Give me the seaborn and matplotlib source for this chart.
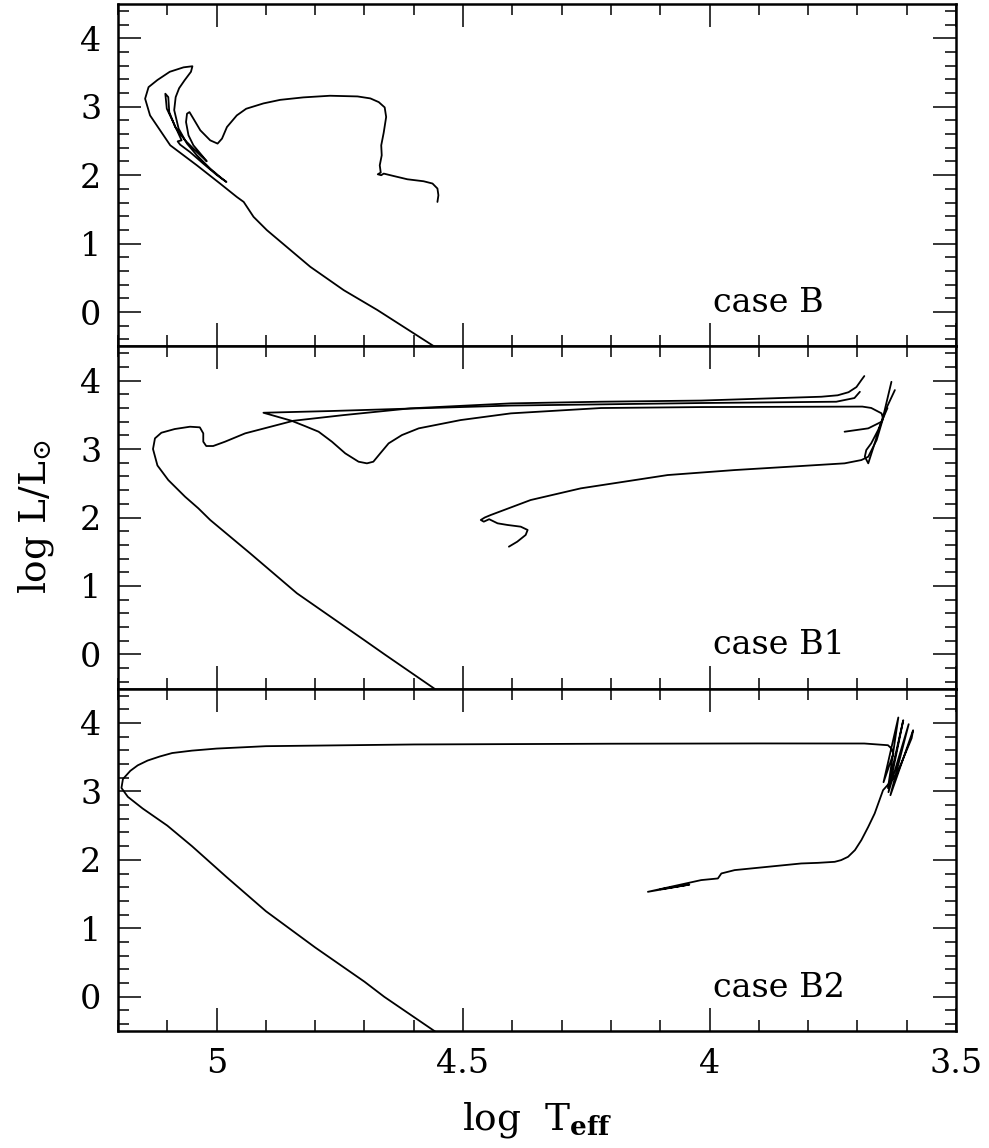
import numpy as np
import pandas as pd
import matplotlib
matplotlib.use("Agg")
import matplotlib.pyplot as plt
import seaborn as sns
from matplotlib.ticker import MultipleLocator, FuncFormatter

# ---- evolutionary tracks (log Teff, log L/Lsun) ----
# case B
caseB_T = [4.548, 4.674, 4.742, 4.810, 4.898, 4.925, 4.945, 4.959, 4.993, 5.040,
           5.094, 5.135, 5.145, 5.138, 5.120, 5.095, 5.067, 5.049, 5.052, 5.065,
           5.076, 5.083, 5.086, 5.077, 5.060, 5.040, 5.013, 4.989, 4.980, 4.999,
           5.027, 5.054, 5.074, 5.079, 5.071, 5.088, 5.101, 5.104, 5.098, 5.096,
           5.084, 5.064, 5.040, 5.020, 5.030, 5.047, 5.057, 5.062, 5.060, 5.055,
           5.047, 5.033, 5.013, 4.998, 4.989, 4.979, 4.959, 4.940, 4.905, 4.871,
           4.824, 4.770, 4.714, 4.688, 4.671, 4.659, 4.656, 4.661, 4.666, 4.665,
           4.669, 4.667, 4.673, 4.666, 4.661, 4.641, 4.613, 4.580, 4.562, 4.552,
           4.550, 4.552]
caseB_L = [-0.55, 0.031, 0.32, 0.662, 1.197, 1.391, 1.609, 1.682, 1.878, 2.144,
           2.436, 2.873, 3.117, 3.286, 3.390, 3.510, 3.575, 3.591, 3.510, 3.385,
           3.270, 3.140, 2.950, 2.679, 2.461, 2.290, 2.096, 1.950, 1.901, 1.999,
           2.169, 2.338, 2.446, 2.494, 2.509, 2.776, 2.971, 3.190, 3.140, 2.921,
           2.703, 2.509, 2.338, 2.203, 2.290, 2.436, 2.582, 2.776, 2.898, 2.921,
           2.825, 2.655, 2.509, 2.461, 2.534, 2.703, 2.873, 2.970, 3.048, 3.100,
           3.136, 3.160, 3.150, 3.121, 3.067, 2.990, 2.850, 2.620, 2.436, 2.290,
           2.144, 2.038, 2.013, 1.999, 2.023, 1.988, 1.940, 1.911, 1.878, 1.805,
           1.707, 1.609]

# case B1: main sequence, hook and first crossing
b1_ms_T = [4.548, 4.659, 4.701, 4.837, 4.932, 5.013, 5.037, 5.064, 5.098, 5.120,
           5.129, 5.125, 5.112, 5.085, 5.054, 5.034, 5.027, 5.027, 5.021, 5.007,
           4.983, 4.942, 4.844, 4.742, 4.607, 4.403, 4.220, 4.017, 3.773, 3.740,
           3.718, 3.702, 3.692, 3.686]
b1_ms_L = [-0.55, 0.000, 0.212, 0.893, 1.477, 1.964, 2.134, 2.304, 2.547, 2.760,
           3.000, 3.156, 3.238, 3.292, 3.326, 3.317, 3.229, 3.107, 3.044, 3.044,
           3.107, 3.229, 3.413, 3.496, 3.594, 3.667, 3.691, 3.708, 3.764, 3.785,
           3.830, 3.905, 4.007, 4.066]
# case B1: blue loop back and return to the giant branch
b1_loop_T = [3.695, 3.706, 3.743, 4.017, 4.403, 4.607, 4.769, 4.905, 4.848, 4.821,
             4.793, 4.766, 4.739, 4.712, 4.695, 4.682, 4.668, 4.651, 4.624, 4.590,
             4.505, 4.403, 4.220, 4.017, 3.773, 3.690, 3.672, 3.651, 3.648, 3.658,
             3.672, 3.682, 3.685, 3.678, 3.668, 3.647, 3.631]
b1_loop_L = [3.836, 3.745, 3.691, 3.672, 3.635, 3.591, 3.555, 3.530, 3.413, 3.336,
             3.253, 3.107, 2.937, 2.815, 2.791, 2.815, 2.937, 3.083, 3.204, 3.302,
             3.423, 3.521, 3.599, 3.613, 3.618, 3.620, 3.600, 3.521, 3.448, 3.277,
             3.083, 2.985, 2.888, 2.791, 3.015, 3.496, 3.982]
# case B1: low-luminosity branch
b1_low_T = [4.407, 4.390, 4.373, 4.369, 4.383, 4.410, 4.430, 4.447, 4.458, 4.464,
            4.456, 4.444, 4.363, 4.261, 4.085, 3.949, 3.814, 3.726, 3.692, 3.678,
            3.661, 3.643, 3.624]
b1_low_L = [1.574, 1.647, 1.745, 1.818, 1.866, 1.891, 1.915, 1.975, 1.939, 1.964,
            2.000, 2.036, 2.255, 2.426, 2.620, 2.693, 2.752, 2.791, 2.839, 2.888,
            3.131, 3.569, 3.861]
b1_knot_T = [3.726, 3.678, 3.651, 3.639]
b1_knot_L = [3.253, 3.302, 3.399, 3.599]

# case B2
b2_T = [4.548, 4.660, 4.700, 4.800, 4.900, 4.980, 5.050, 5.100, 5.150, 5.180,
        5.193, 5.190, 5.175, 5.160, 5.140, 5.115, 5.090, 5.050, 5.000, 4.900,
        4.600, 4.200, 3.900, 3.686, 3.638, 3.631, 3.627, 3.647, 3.617, 3.638,
        3.607, 3.637, 3.596, 3.633, 3.587, 3.590, 3.621, 3.648, 3.665, 3.678,
        3.692, 3.705, 3.719, 3.733, 3.746, 3.780, 3.814, 3.949, 3.976, 3.983,
        4.017, 4.125, 4.041, 4.100]
b2_L = [-0.55, 0.00, 0.22, 0.72, 1.25, 1.75, 2.20, 2.50, 2.75, 2.92,
        3.05, 3.18, 3.30, 3.38, 3.45, 3.51, 3.56, 3.595, 3.625, 3.66,
        3.685, 3.696, 3.700, 3.699, 3.674, 3.626, 3.553, 3.134, 4.079, 3.047,
        4.039, 2.988, 3.981, 2.944, 3.893, 3.777, 3.236, 3.017, 2.677, 2.482,
        2.288, 2.142, 2.044, 1.996, 1.971, 1.956, 1.947, 1.850, 1.801, 1.728,
        1.704, 1.533, 1.638, 1.570]

panel_names = ["case B", "case B1", "case B2"]
panel_tracks = [
    [(caseB_T, caseB_L)],
    [(b1_ms_T, b1_ms_L), (b1_loop_T, b1_loop_L), (b1_low_T, b1_low_L),
     (b1_knot_T, b1_knot_L)],
    [(b2_T, b2_L)],
]


def track_frame(segments):
    parts = []
    for i, (t, l) in enumerate(segments):
        parts.append(pd.DataFrame({"T": t, "L": l, "seg": i}))
    return pd.concat(parts, ignore_index=True)


sns.set_theme(style="ticks")
plt.rcParams["font.family"] = ["DejaVu Serif"]
plt.rcParams["mathtext.fontset"] = "dejavuserif"
plt.rcParams["text.color"] = "black"
plt.rcParams["lines.solid_joinstyle"] = "round"
plt.rcParams["lines.solid_capstyle"] = "round"

W, H = 989, 1148
fig = plt.figure(figsize=(W / 100, H / 100), dpi=100)
left, width = 118 / W, 838 / W
bottom0 = 1 - 1031 / H
ph = (1 - 4 / H - bottom0) / 3

axes = []
for k in range(3):
    b = bottom0 + (2 - k) * ph
    ax = fig.add_axes([left, b, width, ph], sharex=axes[0] if axes else None)
    axes.append(ax)

for k, ax in enumerate(axes):
    df = track_frame(panel_tracks[k])
    sns.lineplot(data=df, x="T", y="L", units="seg", estimator=None,
                 sort=False, color="black", linewidth=1.3, ax=ax, legend=False)
    ax.set_xlim(5.2, 3.5)
    ax.set_ylim(-0.5, 4.5)
    ax.set_xlabel("")
    ax.set_ylabel("")
    ax.xaxis.set_major_locator(MultipleLocator(0.5))
    ax.xaxis.set_minor_locator(MultipleLocator(0.1))
    ax.yaxis.set_major_locator(MultipleLocator(1))
    ax.yaxis.set_minor_locator(MultipleLocator(0.2))
    ax.tick_params(which="both", direction="in", top=True, right=True,
                   colors="black", labelsize=24, pad=12)
    ax.tick_params(which="major", length=16.5, width=1.1)
    ax.tick_params(which="minor", length=8, width=1.1)
    ax.yaxis.set_major_formatter(FuncFormatter(lambda v, p: f"{v:g}"))
    ax.xaxis.set_major_formatter(FuncFormatter(lambda v, p: f"{v:g}"))
    for s in ax.spines.values():
        s.set_linewidth(1.8)
        s.set_color("black")
    if k < 2:
        ax.tick_params(labelbottom=False)
    ax.text(3.993, 0.0, panel_names[k], ha="left", va="baseline",
            fontsize=24, color="black")

fig.text(537 / W, 1 - 1130 / H, r"log  T$_{\mathbf{eff}}$", ha="center",
         va="baseline", fontsize=27, color="black")
fig.text(36 / W, 1 - 517 / H, r"log L/L$_{\odot}$", ha="center", va="center",
         rotation=90, fontsize=27, color="black")

fig.savefig("out.png", dpi=100)
